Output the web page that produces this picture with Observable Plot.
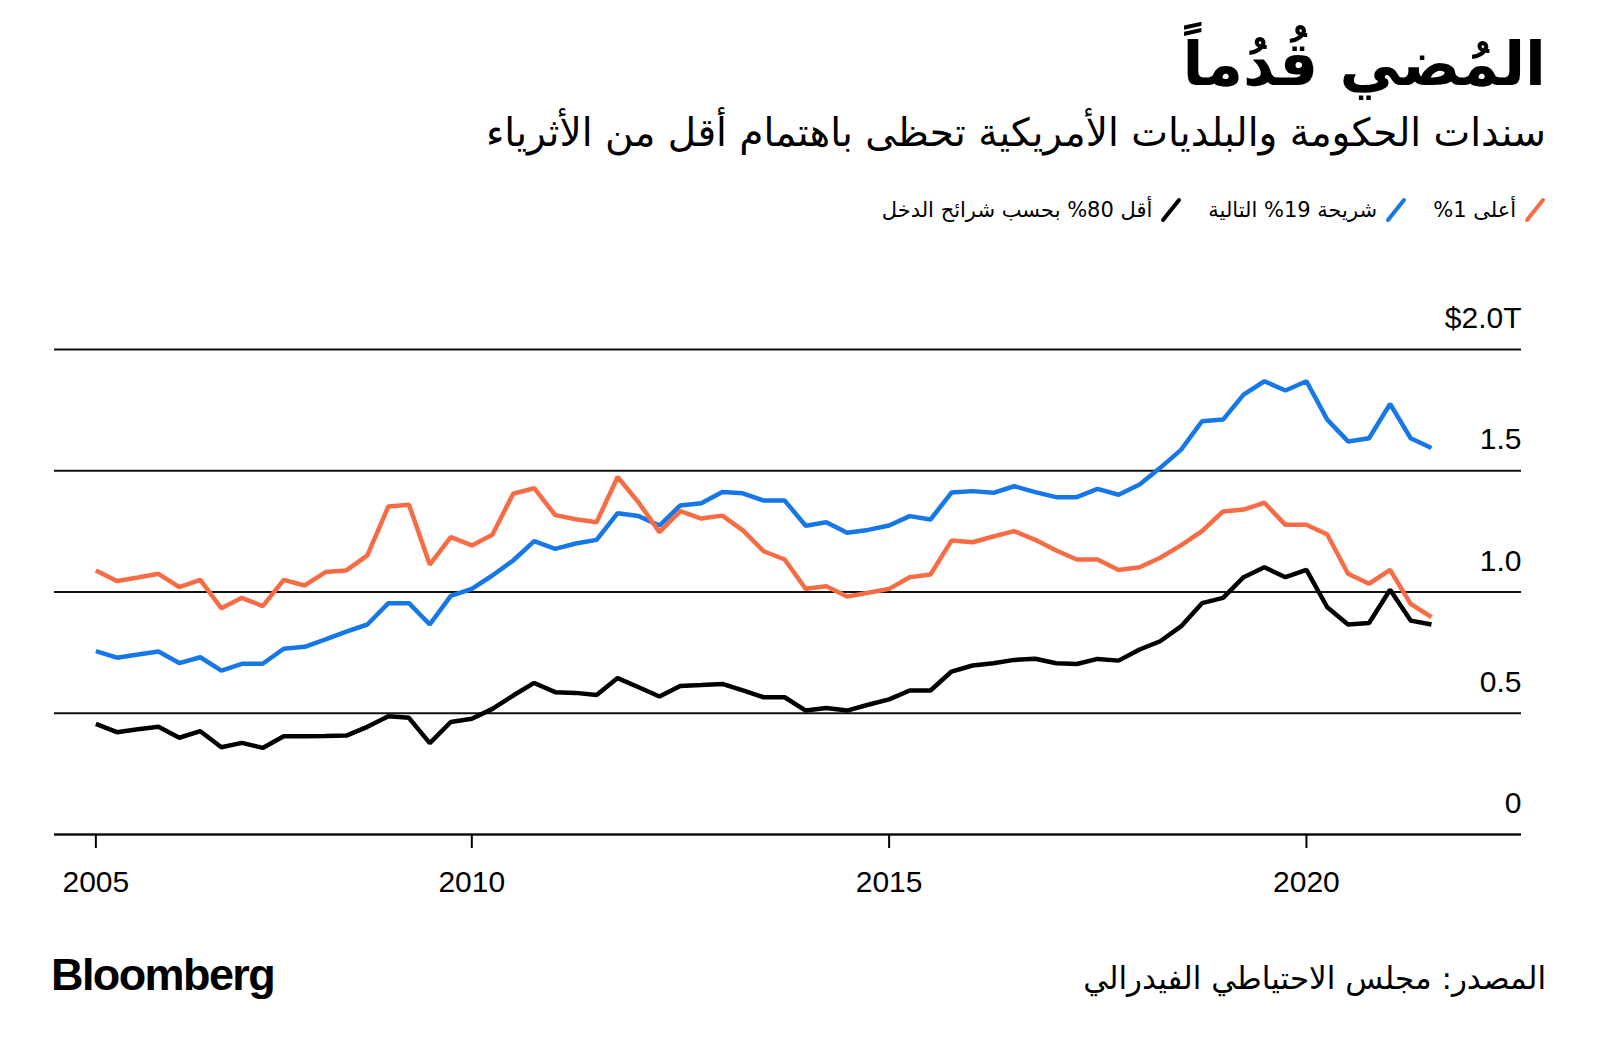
<!DOCTYPE html>
<html>
<head>
<meta charset="utf-8">
<script src="https://cdn.jsdelivr.net/npm/d3@7"></script>
<script src="https://cdn.jsdelivr.net/npm/@observablehq/plot@0.6"></script>
<style>
  html, body { margin: 0; padding: 0; background: #fff; }
  body { width: 1600px; height: 1051px; position: relative; overflow: hidden; font-family: "Liberation Sans", Arial, sans-serif; color: #000; }
  .ar { font-family: "DejaVu Sans", sans-serif; direction: rtl; position: absolute; right: 54px; text-align: right; white-space: nowrap; color: #000; }
  #title { top: 30px; font-size: 61px; font-weight: bold; line-height: 1.1; }
  #subtitle { top: 110px; font-size: 39px; line-height: 1.2; }
  #legend { top: 197px; font-size: 21px; display: flex; align-items: center; gap: 26px; }
  .item { display: flex; align-items: center; gap: 8px; }
  #chart { position: absolute; left: 0; top: 260px; }
  #logo { position: absolute; left: 51px; top: 949px; font-family: "Liberation Sans", Arial, sans-serif; font-weight: bold; font-size: 45px; letter-spacing: -1.6px; }
  #source { top: 960px; font-size: 31px; }
</style>
</head>
<body>
<div id="title" class="ar">المُضي قُدُماً</div>
<div id="subtitle" class="ar">سندات الحكومة والبلديات الأمريكية تحظى باهتمام أقل من الأثرياء</div>
<div id="legend" class="ar"></div>
<div id="chart"></div>
<div id="logo">Bloomberg</div>
<div id="source" class="ar">المصدر: مجلس الاحتياطي الفيدرالي</div>
<script>
// Quarterly observations, 2005 Q3 to 2021 Q3 (trillions of dollars)
const quarters = [
  "2005-07-01","2005-10-01",
  "2006-01-01","2006-04-01","2006-07-01","2006-10-01",
  "2007-01-01","2007-04-01","2007-07-01","2007-10-01",
  "2008-01-01","2008-04-01","2008-07-01","2008-10-01",
  "2009-01-01","2009-04-01","2009-07-01","2009-10-01",
  "2010-01-01","2010-04-01","2010-07-01","2010-10-01",
  "2011-01-01","2011-04-01","2011-07-01","2011-10-01",
  "2012-01-01","2012-04-01","2012-07-01","2012-10-01",
  "2013-01-01","2013-04-01","2013-07-01","2013-10-01",
  "2014-01-01","2014-04-01","2014-07-01","2014-10-01",
  "2015-01-01","2015-04-01","2015-07-01","2015-10-01",
  "2016-01-01","2016-04-01","2016-07-01","2016-10-01",
  "2017-01-01","2017-04-01","2017-07-01","2017-10-01",
  "2018-01-01","2018-04-01","2018-07-01","2018-10-01",
  "2019-01-01","2019-04-01","2019-07-01","2019-10-01",
  "2020-01-01","2020-04-01","2020-07-01","2020-10-01",
  "2021-01-01","2021-04-01","2021-07-01"
];

const top1 = [
  1.089, 1.045, 1.060, 1.075, 1.020, 1.050, 0.933, 0.976, 0.942, 1.050,
  1.027, 1.082, 1.089, 1.151, 1.353, 1.360, 1.113, 1.226, 1.192, 1.236,
  1.405, 1.428, 1.317, 1.300, 1.288, 1.474, 1.369, 1.247, 1.333, 1.303,
  1.315, 1.254, 1.168, 1.134, 1.013, 1.024, 0.981, 0.997, 1.013, 1.061,
  1.072, 1.212, 1.205, 1.229, 1.251, 1.215, 1.171, 1.134, 1.134, 1.091,
  1.102, 1.141, 1.192, 1.251, 1.332, 1.340, 1.368, 1.277, 1.277, 1.237,
  1.075, 1.034, 1.091, 0.951, 0.896
];

const next19 = [
  0.756, 0.729, 0.742, 0.755, 0.707, 0.731, 0.676, 0.704, 0.704, 0.766,
  0.774, 0.805, 0.837, 0.866, 0.954, 0.954, 0.866, 0.984, 1.013, 1.068,
  1.130, 1.210, 1.178, 1.200, 1.215, 1.325, 1.313, 1.274, 1.357, 1.366,
  1.412, 1.407, 1.377, 1.377, 1.273, 1.288, 1.244, 1.256, 1.274, 1.313,
  1.299, 1.410, 1.416, 1.409, 1.436, 1.412, 1.391, 1.391, 1.425, 1.401,
  1.443, 1.512, 1.586, 1.704, 1.711, 1.814, 1.869, 1.831, 1.869, 1.711,
  1.621, 1.634, 1.776, 1.634, 1.594
];

const bottom80 = [
  0.456, 0.422, 0.434, 0.444, 0.399, 0.426, 0.360, 0.378, 0.357, 0.405,
  0.405, 0.406, 0.408, 0.444, 0.488, 0.481, 0.377, 0.464, 0.477, 0.518,
  0.573, 0.625, 0.587, 0.584, 0.575, 0.645, 0.607, 0.569, 0.612, 0.616,
  0.621, 0.594, 0.566, 0.566, 0.511, 0.522, 0.511, 0.535, 0.557, 0.594,
  0.594, 0.672, 0.697, 0.706, 0.720, 0.725, 0.706, 0.703, 0.724, 0.717,
  0.763, 0.797, 0.858, 0.954, 0.976, 1.061, 1.102, 1.061, 1.091, 0.937,
  0.866, 0.872, 1.009, 0.882, 0.866
];

const seriesNames = ["أعلى 1%", "شريحة 19% التالية", "أقل 80% بحسب شرائح الدخل"];
const seriesColors = ["#f76b45", "#1677e8", "#000000"];
const seriesValues = [top1, next19, bottom80];

const yTicks = [0, 0.5, 1.0, 1.5, 2.0];
const yTickLabels = ["0", "0.5", "1.0", "1.5", "$2.0T"];
const xTickDates = ["2005-07-01", "2010-01-01", "2015-01-01", "2020-01-01"];
const xTickLabels = ["2005", "2010", "2015", "2020"];
const xDomain = ["2005-01-01", "2022-07-30"];

// Legend
const legend = document.getElementById("legend");
seriesNames.forEach((name, i) => {
  const item = document.createElement("div");
  item.className = "item";
  item.innerHTML = `<svg width="22" height="26" style="display:block"><line x1="3" y1="23" x2="19" y2="3" stroke="${seriesColors[i]}" stroke-width="4" stroke-linecap="round"/></svg><span>${name}</span>`;
  legend.appendChild(item);
});

// Long table
const rows = [];
[1, 0, 2].forEach(s => {
  seriesValues[s].forEach((v, i) => rows.push({date: new Date(quarters[i]), value: v, series: seriesNames[s]}));
});

const chart = Plot.plot({
  width: 1600,
  height: 660,
  marginLeft: 54,
  marginRight: 79,
  marginTop: 89,
  marginBottom: 86,
  style: {fontFamily: "'Liberation Sans', Arial, sans-serif", fontSize: "30px", color: "#000", background: "transparent", overflow: "visible"},
  x: {type: "utc", domain: xDomain.map(d => new Date(d))},
  y: {domain: [0, 2]},
  color: {domain: seriesNames, range: seriesColors},
  marks: [
    Plot.ruleY(yTicks.filter(d => d > 0), {stroke: "#111", strokeWidth: 2}),
    Plot.ruleY([0], {stroke: "#111", strokeWidth: 2.5}),
    Plot.axisY(yTicks, {
      anchor: "right", tickSize: 0, tickPadding: 0, textAnchor: "end", dy: -31,
      label: null, tickFormat: d => yTickLabels[yTicks.indexOf(d)]
    }),
    Plot.axisX(xTickDates.map(d => new Date(d)), {
      tickSize: 14, tickPadding: 22, strokeWidth: 2, label: null,
      tickFormat: d => xTickLabels[xTickDates.findIndex(t => +new Date(t) === +d)]
    }),
    Plot.line(rows, {x: "date", y: "value", z: "series", stroke: "series", strokeWidth: 4.5, strokeLinejoin: "miter", strokeLinecap: "butt"})
  ]
});
document.getElementById("chart").appendChild(chart);
</script>
</body>
</html>
